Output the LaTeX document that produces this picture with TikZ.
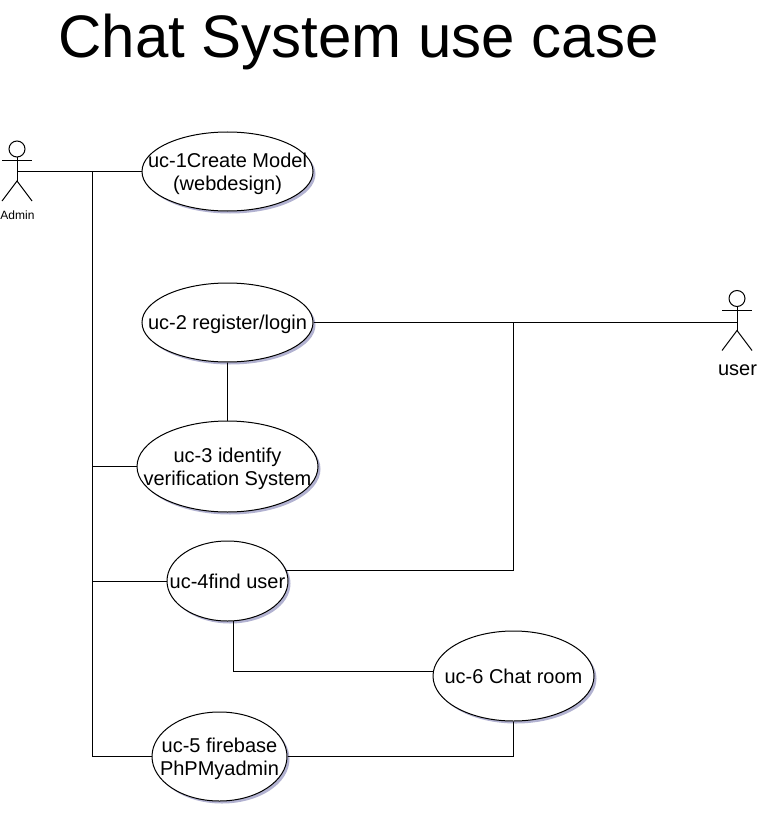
\documentclass[tikz,border=0pt]{standalone}
\usepackage{fontspec}
\usepackage{tikz}
\usetikzlibrary{positioning,shadows,shapes.geometric}
\setmainfont{Liberation Sans}
\newcommand{\uctext}[1]{\smash{\makebox[0pt]{\raisebox{-.4em}{\begin{tabular}[c]{@{}c@{}}#1\end{tabular}}}}}

\begin{document}
\begin{tikzpicture}[
    x=1pt, y=-1pt,
    line width=1pt,
    font=\fontsize{20}{23}\selectfont,
    usecase/.style={draw, ellipse, fill=white, inner sep=0pt, drop shadow={fill=black!60!blue, opacity=0.3, shadow xshift=2.5pt, shadow yshift=-2.5pt}},
    link/.style={line join=miter},
    actor/.pic={
        \draw[fill=white] (0,-22.5) circle (8);
        \draw (-15,-10.5) -- (15,-10.5);
        \draw (0,-14.5) -- (0,9.5);
        \draw (-15,29.5) -- (0,9.5) -- (15,29.5);
    }
]
\useasboundingbox (0,0) rectangle (768,813);

\node[font=\fontsize{60}{66}\selectfont] (title) at (358.5,42) {Chat System use case};

% use cases
\node[usecase, minimum width=171pt, minimum height=79pt] (uc1) at (227.5,171.5) {\uctext{uc-1Create Model\\(webdesign)}};
\node[usecase, minimum width=171pt, minimum height=79pt, below=71pt of uc1] (uc2) {\uctext{uc-2 register/login}};
\node[usecase, minimum width=181pt, minimum height=91pt, below=58pt of uc2] (uc3) {\uctext{uc-3 identify\\verification System}};
\node[usecase, minimum width=121pt, minimum height=80pt, below=28pt of uc3] (uc4) {\uctext{uc-4find user}};
\node[usecase, minimum width=135pt, minimum height=89pt] (uc5) at (219.5,756.5) {\uctext{uc-5 firebase\\PhPMyadmin}};
\node[usecase, minimum width=161pt, minimum height=90pt] (uc6) at (513.5,676) {\uctext{uc-6 Chat room}};

% actors
\coordinate (admin) at (17,171.5);
\coordinate (user) at (737,321);
\pic at (admin) {actor};
\pic at (user) {actor};
\node[font=\fontsize{12}{14}\selectfont, inner sep=0pt] (adminlabel) at (17.5,215) {Admin};
\node[inner sep=0pt] (userlabel) at (737.5,370) {user};

\coordinate (trunk) at (92.5,171.5);
\coordinate (branch) at (513,321.5);

\draw[link] (admin) -- (uc1.west);
\draw[link] (trunk) |- (uc5.west);
\draw[link] (uc3.west) -- (uc3.west -| trunk);
\draw[link] (uc4.west) -- (uc4.west -| trunk);
\draw[link] (uc2.east) -- (uc2.east -| user);
\draw[link] (uc2) -- (uc3);
\draw[link] (uc4.10) -| (branch);
\draw[link] (uc4.278) |- (uc6.177);
\draw[link] (uc5.east) -| (uc6.south);
\end{tikzpicture}
\end{document}
